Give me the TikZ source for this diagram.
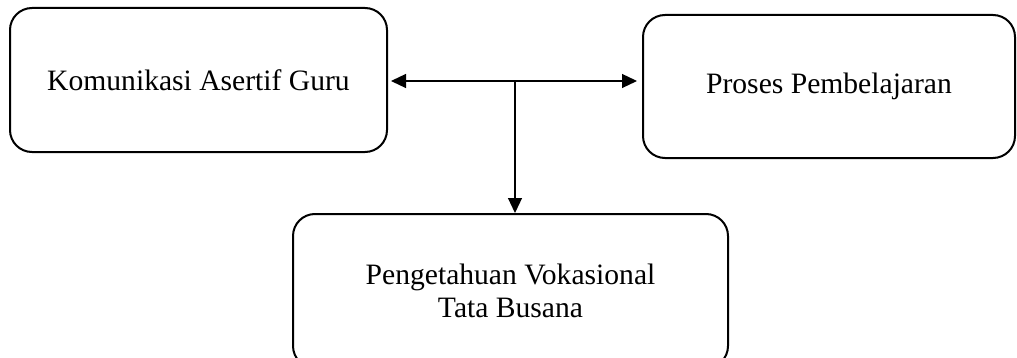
\documentclass[tikz,border=0pt]{standalone}
\usepackage{fontspec}
\setmainfont{Liberation Serif}
\usetikzlibrary{arrows.meta, calc, positioning}

\tikzset{
    kotak/.style={draw, line width=1pt, rounded corners=11pt, align=center,
        font=\fontsize{14.8}{16.5}\selectfont},
    panah/.style={line width=0.6pt, -{Triangle[length=7.5pt, width=7pt]}}
}

\begin{document}
\begin{tikzpicture}[x=0.5pt, y=-0.5pt]
                    \useasboundingbox (0, 0) rectangle (1017, 358);

                    \node[kotak, minimum width=188.5pt, minimum height=72pt] (kom) at (198.5, 80) {Komunikasi Asertif Guru};
                    \node[kotak, minimum width=186pt, minimum height=71.5pt] (pros) at (829, 86.5) {Proses Pembelajaran};
                    \node[kotak, minimum width=217.5pt, minimum height=77pt] (peng) at (510.5, 291) {Pengetahuan Vokasional\\Tata Busana};

                    \coordinate (mid) at (515, 81);

                    \draw[panah, {Triangle[length=7.5pt, width=7pt]}-{Triangle[length=7.5pt, width=7pt]},
                        shorten <=1.5pt, shorten >=2.5pt]
                    (kom.east |- mid) -- (pros.west |- mid);
                    \draw[panah] (mid) -- (mid |- peng.north);
                \end{tikzpicture}
\end{document}
